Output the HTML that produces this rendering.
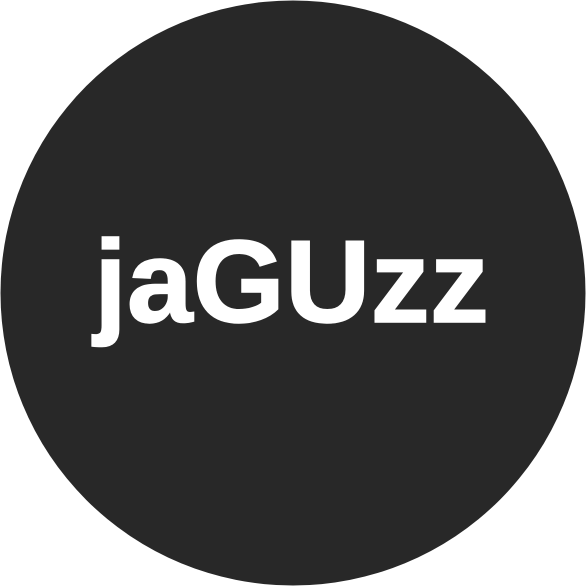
<!DOCTYPE html>
<html>
<head>
<meta charset="utf-8">
<style>
  html, body { margin: 0; padding: 0; background: #ffffff; }
  svg { display: block; }
</style>
</head>
<body>
<svg width="586" height="586" viewBox="0 0 586 586">
  <circle cx="293" cy="293" r="292.5" fill="#282828"/>
  <text x="94" y="322" fill="#ffffff" stroke="#ffffff" stroke-width="1.5" font-family="'Liberation Sans', Arial, sans-serif" font-weight="bold" font-size="117" textLength="395" lengthAdjust="spacingAndGlyphs">jaGUzz</text>
</svg>
</body>
</html>
